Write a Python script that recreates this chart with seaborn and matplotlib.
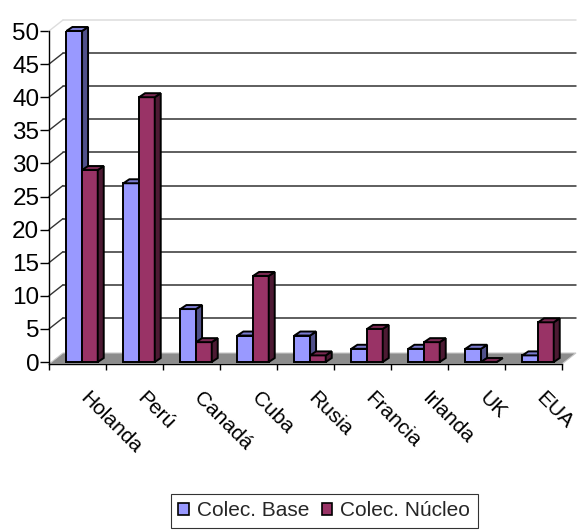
import numpy as np
import pandas as pd
import matplotlib
matplotlib.use("Agg")
import matplotlib.pyplot as plt
import seaborn as sns
from matplotlib.patches import Polygon, Patch
from matplotlib.lines import Line2D
from matplotlib.transforms import offset_copy

# --- data -------------------------------------------------------------
paises = ["Holanda", "Perú", "Canadá", "Cuba", "Rusia", "Francia", "Irlanda", "UK", "EUA"]
colec_base = [50, 27, 8, 4, 4, 2, 2, 2, 1]
colec_nucleo = [29, 40, 3, 13, 1, 5, 3, 0, 6]
series = ["Colec. Base", "Colec. Núcleo"]
y_ticks = list(range(0, 55, 5))

# --- colours (front, top, side faces of the 3-D columns) ----------------
front_colors = ["#9999FF", "#993366"]
top_colors = ["#7B7BD0", "#7A2952"]
side_colors = ["#50508A", "#4D1A33"]
floor_color = "#8C8C8C"

sns.set_theme(style="white")
plt.rcParams["font.family"] = ["Liberation Sans", "DejaVu Sans"]

df = pd.DataFrame({
    "País": paises * 2,
    "Serie": [series[0]] * len(paises) + [series[1]] * len(paises),
    "Valor": colec_base + colec_nucleo,
})

W, H = 579, 532
fig = plt.figure(figsize=(W / 100, H / 100), dpi=100)
ax = fig.add_axes([49 / W, (H - 364) / H, 513 / W, 333 / H])

sns.barplot(data=df, x="País", y="Valor", hue="Serie", palette=front_colors,
            width=0.55, saturation=1, edgecolor="black", linewidth=1.4,
            legend=False, ax=ax)

YMIN, YMAX = -0.3, 50
XMIN, XMAX = -0.58, 8.42
ax.set_xlim(XMIN, XMAX)
ax.set_ylim(YMIN, YMAX)
ax.set_xlabel("")
ax.set_ylabel("")

# pixel -> data helpers for the oblique depth of walls and columns
sx = 513 / (XMAX - XMIN)
sy = 333 / (YMAX - YMIN)
wdx, wdy = 14 / sx, 11 / sy      # depth of the floor / back wall
bdx, bdy = 6 / sx, 4 / sy        # depth of each column

# floor
ax.add_patch(Polygon([(XMIN, YMIN), (XMAX, YMIN), (XMAX + wdx, YMIN + wdy),
                      (XMIN + wdx, YMIN + wdy)], closed=True,
                     facecolor=floor_color, edgecolor="#C8C8C8", lw=0.8,
                     zorder=1, clip_on=False))

# back-wall gridlines and their diagonal continuation on the side wall
for v in y_ticks[1:]:
    col = "#DDDDDD" if v == y_ticks[-1] else "#333333"
    ax.add_line(Line2D([XMIN + wdx, XMAX + wdx], [v + wdy, v + wdy],
                       color=col, lw=1.1, zorder=1.5, clip_on=False))
    ax.add_line(Line2D([XMIN, XMIN + wdx], [v, v + wdy],
                       color=col, lw=1.0, zorder=1.5, clip_on=False))

# top and side faces of each column
for i, cont in enumerate(ax.containers):
    z = 3 + i
    for bar in cont:
        bar.set_zorder(z)
        x0, y0 = bar.get_x(), bar.get_y()
        w, h = bar.get_width(), bar.get_height()
        top = [(x0, y0 + h), (x0 + w, y0 + h), (x0 + w + bdx, y0 + h + bdy),
               (x0 + bdx, y0 + h + bdy)]
        side = [(x0 + w, y0), (x0 + w + bdx, y0 + bdy),
                (x0 + w + bdx, y0 + h + bdy), (x0 + w, y0 + h)]
        ax.add_patch(Polygon(side, closed=True, facecolor=side_colors[i],
                             edgecolor="black", lw=1.4, zorder=z, clip_on=False))
        ax.add_patch(Polygon(top, closed=True, facecolor=top_colors[i],
                             edgecolor="black", lw=1.4, zorder=z, clip_on=False))

# spines and ticks
for s in ("top", "right"):
    ax.spines[s].set_visible(False)
for s in ("left", "bottom"):
    ax.spines[s].set_color("black")
    ax.spines[s].set_linewidth(1.0)
    ax.spines[s].set_zorder(2)

ax.set_yticks(y_ticks)
ax.set_yticklabels([str(v) for v in y_ticks])
ax.tick_params(axis="y", left=True, length=6.5, width=1.0, pad=0.5,
               labelsize=17.5, colors="black", direction="out")

ax.set_xticks(np.arange(len(paises) + 1) + XMIN)
ax.tick_params(axis="x", bottom=True, length=4, width=1.0, direction="out",
               colors="black", labelbottom=False)

label_tr = offset_copy(ax.transData, fig=fig, x=2, y=-35, units="dots")
for k, name in enumerate(paises):
    ax.text(k - 0.08, YMIN, name, transform=label_tr, rotation=-45,
            rotation_mode="anchor", ha="left", va="baseline", fontsize=15,
            color="black")

handles = [Patch(facecolor=c, edgecolor="black", lw=1.2) for c in front_colors]
leg = fig.legend(handles=handles, labels=series, loc="center",
                 bbox_to_anchor=(0.56, 0.04), ncol=2, frameon=True,
                 fancybox=False, edgecolor="black", fontsize=15,
                 handlelength=0.5, handleheight=0.5, handletextpad=0.4,
                 columnspacing=0.6, borderpad=0.35, borderaxespad=0)
leg.get_frame().set_linewidth(0.8)

fig.savefig("out.png", dpi=100)
